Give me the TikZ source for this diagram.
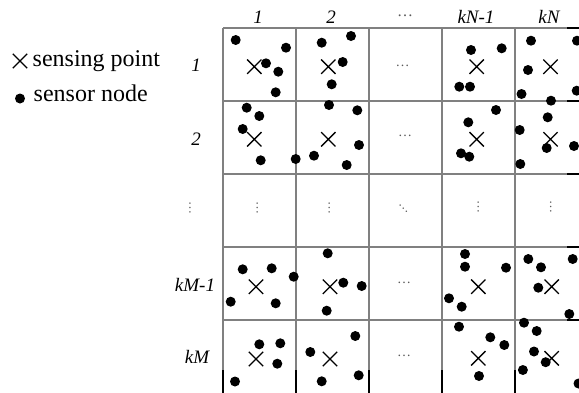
\documentclass[tikz,border=0pt]{standalone}
\usepackage{fontspec}
\setmainfont{Liberation Serif}
\usepackage{tikz}
\usetikzlibrary{shapes.misc}

\begin{document}
\begin{tikzpicture}[x = 0.5pt, y = -0.5pt,
  sensor/.style = {circle, fill = black, inner sep = 0pt, minimum size = 5pt},
  spoint/.style = {cross out, draw = black, line width = 0.65pt, inner sep = 0pt, minimum size = 6.5pt},
  lab/.style = {font = \fontsize{9.5}{11}\selectfont\itshape, inner sep = 0pt, anchor = base},
  key/.style = {font = \fontsize{12}{14}\selectfont, inner sep = 0pt, anchor = base west},
  gap/.style = {font = \fontsize{6.5}{8}\selectfont, text = black!65, inner sep = 0pt}]
\useasboundingbox (0,0) rectangle (579,392);
\foreach \y in {28,101,174,247,320} {
  \draw [gray, line width = 0.6pt] (223,\y) -- (567,\y);
  \draw [black, line width = 0.6pt] (567,\y) -- (590,\y);
}
\foreach \x in {223,296,369,442,515} {
  \draw [gray, line width = 0.6pt] (\x,28) -- (\x,370);
  \draw [black, line width = 0.6pt] (\x,370) -- (\x,395);
}
\node [spoint] (keyp) at (20,61) {};
\node [key] (keyptext) at (32.3,66.7) {sensing point};
\node [sensor] (keys) at (20,98.5) {};
\node [key] (keystext) at (33.3,101.7) {sensor node};
\node [lab] (c1) at (258,23.3) {1};
\node [lab] (c2) at (331,23.3) {2};
\node [gap, font = \fontsize{8}{9}\selectfont] (c3) at (405,16) {…};
\node [lab] (c4) at (476,23.3) {kN-1};
\node [lab] (c5) at (549,23.3) {kN};
\node [lab] (r1) at (196,71.7) {1};
\node [lab] (r2) at (196,145) {2};
\node [gap, rotate = 90] (r3) at (190,208) {…};
\node [lab] (r4) at (195,291.2) {kM-1};
\node [lab] (r5) at (197,363.5) {kM};
\foreach \x/\y [count = \i] in {402.5/65.7, 405/135.7, 404/283.3, 404/355.7}
  \node [gap, font = \fontsize{7}{8}\selectfont] (h\i) at (\x,\y) {…};
\foreach \x/\y [count = \i] in {257.3/208.3, 329.3/208.3, 478.3/207.3, 550.7/207.3}
  \node [gap, rotate = 90] (v\i) at (\x,\y) {…};
\node [gap, rotate = -45] (dg) at (403.3,208.3) {…};
\foreach \x/\y [count = \i] in {
  235.7/40, 286/47.7, 266/63.3, 278.3/71.7, 275.7/92.3,
  351/36, 321.7/42.7, 342.7/62, 331.7/84.3,
  471/50, 501.7/48.3, 459.3/86.7, 470/86.7,
  531/40.7, 528/70, 521.5/94, 577/40.7, 576.7/90.7,
  246.7/107.7, 259.3/116, 242.7/129, 260.7/160.3, 295.7/159,
  329/105, 357.3/110.3, 359/145, 314/155.7, 346.7/165,
  496/110, 468.3/122.3, 461/153.3, 469.3/156.7,
  551/100.7, 547.7/117.3, 519.7/130, 546.7/148, 574/146, 520.3/164,
  242.7/269.3, 271.7/268.3, 293.7/276.7, 230.7/301.7, 275.7/303.3,
  327.7/253.3, 343.3/282.7, 361.7/286, 326.7/310.7,
  465/254, 465/266.7, 506/267.7, 449/298.3, 461.7/306.7,
  528.3/259, 541/267.3, 538.3/287.7, 572.7/259, 569.3/314,
  259.3/344.3, 280.3/343.3, 277.3/363.7, 235/381.5,
  355.3/336, 310.3/352, 358.7/375.3, 321.7/381.3,
  459/326.7, 490.3/337.3, 504.3/345, 479/376,
  524/322.7, 536.7/331, 534/351.5, 545.7/362.2, 522.9/370, 578.5/383.5}
  \node [sensor] (s\i) at (\x,\y) {};
\foreach \x/\y [count = \i] in {
  254.3/66.7, 328.3/66.7, 476.7/66.7, 550.5/66.7,
  254.3/139.3, 328.3/139.3, 476.7/139.3, 550.5/139.3,
  256/286.7, 330/286.7, 478.3/286.7, 551.7/286.7,
  256/359, 330/359, 478.3/358.3, 551.7/358.3}
  \node [spoint] (p\i) at (\x,\y) {};
\end{tikzpicture}
\end{document}
